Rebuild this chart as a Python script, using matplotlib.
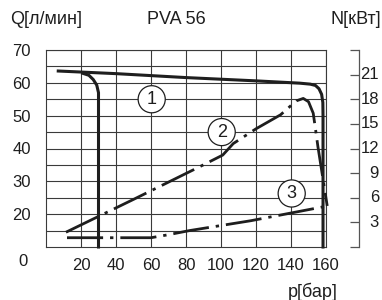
import numpy as np
import matplotlib.pyplot as plt
from matplotlib.transforms import blended_transform_factory

plt.rcParams["font.family"] = ["Liberation Sans", "DejaVu Sans"]

# curve 1: flow Q [l/min] vs pressure p [bar]
q1_p = [7, 40, 80, 120, 145, 151, 154, 156, 157.5, 158.2, 158.3, 158.3]
q1_q = [63.6, 62.8, 61.6, 60.6, 59.9, 59.6, 59.2, 58.2, 56.5, 54.0, 50.0, 10.0]
# curve 1 left branch (low pressure setting)
q1b_p = [21, 24.5, 27, 29, 30, 30]
q1b_q = [62.9, 62.3, 61.0, 59.3, 57.0, 10.0]
# curve 2: power N [kW]
n2_p = [11.4, 50, 88, 101, 107, 120, 134, 143, 147, 150, 152.7, 154.3, 155.4, 160.7]
n2_n = [1.8, 5.8, 9.8, 11.2, 12.6, 14.4, 16.1, 17.8, 18.1, 17.7, 16.3, 13.9, 12.2, 5.0]
# curve 3: power N [kW]
n3_p = [12, 60, 70, 82, 117, 139, 161]
n3_n = [1.13, 1.13, 1.5, 2.0, 3.2, 4.1, 5.0]

x_ticks = [20, 40, 60, 80, 100, 120, 140, 160]
y_ticks = [20, 30, 40, 50, 60, 70]
n_ticks = [0, 3, 6, 9, 12, 15, 18, 21, 24]
n_labels = ["", "3", "6", "9", "12", "15", "18", "21", ""]

ink = "#1e1e1e"
grid_c = "#3a3a3a"

fig = plt.figure(figsize=(3.82, 3.0), dpi=100)
ax = fig.add_axes([46 / 382, 53 / 300, 280 / 382, 197 / 300])
ax.set_xlim(0, 160)
ax.set_ylim(10, 70)

for v in range(20, 161, 20):
    ax.axvline(v, color=grid_c, lw=0.8, zorder=1)
for h in range(15, 71, 5):
    ax.axhline(h, color=grid_c, lw=0.8, zorder=1)
for s in ax.spines.values():
    s.set_color(grid_c)
    s.set_linewidth(0.8)

ax.set_xticks(x_ticks)
ax.set_yticks(y_ticks)
ax.tick_params(axis="x", length=0, pad=8, labelsize=12, colors=ink)
ax.tick_params(axis="y", length=0, pad=11, labelsize=12, colors=ink)

ax.plot(q1_p, q1_q, color=ink, lw=2.2, solid_joinstyle="round", clip_on=False, zorder=3)
ax.plot(q1b_p, q1b_q, color=ink, lw=2.2, solid_joinstyle="round", clip_on=False, zorder=3)

ax2 = ax.twinx()
ax2.set_ylim(0, 24)
dd = (0, (13, 2.5, 1.2, 2.5))
ax2.plot(n2_p, n2_n, color=ink, lw=2.0, linestyle=dd, clip_on=False, zorder=3)
ax2.plot(n3_p, n3_n, color=ink, lw=2.0, linestyle=dd, clip_on=False, zorder=3)

for s in ["top", "left", "bottom"]:
    ax2.spines[s].set_visible(False)
ax2.spines["right"].set_position(("outward", 24))
ax2.spines["right"].set_color("#555555")
ax2.spines["right"].set_linewidth(0.9)
ax2.set_yticks(n_ticks)
ax2.tick_params(axis="y", direction="in", length=6.5, width=0.9, color="#555555",
                labelright=False)
# right-aligned kW labels
tr = blended_transform_factory(fig.transFigure, ax2.transData)
for v, lab in zip(n_ticks, n_labels):
    ax2.text(379 / 382, v, lab, transform=tr, ha="right", va="center",
             fontsize=12, color=ink)

circ = dict(boxstyle="circle,pad=0.28", fc="white", ec=ink, lw=0.9)
ax.text(60.4, 55, "1", fontsize=13, ha="center", va="center", bbox=circ, zorder=4, color=ink)
ax.text(100.4, 45, "2", fontsize=13, ha="center", va="center", bbox=circ, zorder=4, color=ink)
ax.text(140.4, 26.3, "3", fontsize=13, ha="center", va="center", bbox=circ, zorder=4, color=ink)

fig.text(10 / 382, 1 - 20 / 300, "Q[л/мин]", fontsize=13, ha="left", va="center", color=ink)
fig.text(176 / 382, 1 - 20 / 300, "PVA 56", fontsize=13, ha="center", va="center", color=ink)
fig.text(381 / 382, 1 - 20 / 300, "N[кВт]", fontsize=13, ha="right", va="center", color=ink)
fig.text(338 / 382, 1 - 292 / 300, "p[бар]", fontsize=13, ha="right", va="center", color=ink)
fig.text(23 / 382, 1 - 262 / 300, "0", fontsize=12, ha="center", va="center", color=ink)

fig.savefig("out.png", dpi=100)
